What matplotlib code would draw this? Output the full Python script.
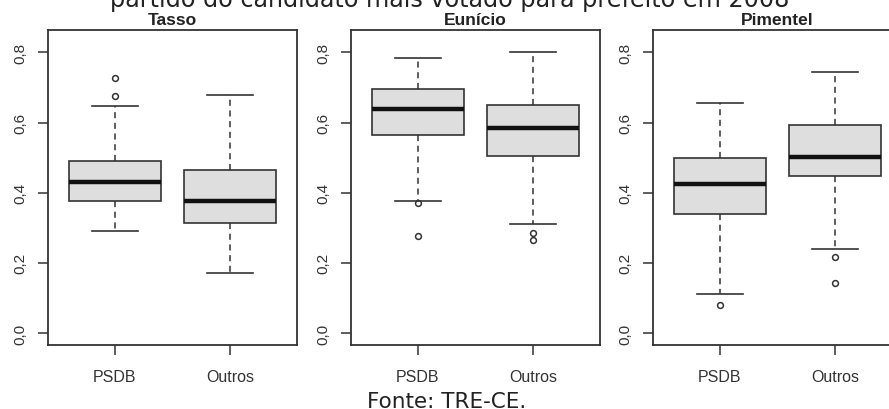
import numpy as np
import matplotlib
matplotlib.use('Agg')
import matplotlib.pyplot as plt

# dados (mínimo, Q1, mediana, Q3, máximo) + outliers
grupos = ['PSDB', 'Outros']
candidatos = ['Tasso', 'Eunício', 'Pimentel']

tasso_psdb = [0.291, 0.376, 0.430, 0.491, 0.647]
tasso_outros = [0.171, 0.314, 0.377, 0.464, 0.678]
eunicio_psdb = [0.376, 0.565, 0.638, 0.695, 0.783]
eunicio_outros = [0.312, 0.506, 0.584, 0.650, 0.802]
pimentel_psdb = [0.112, 0.339, 0.425, 0.498, 0.657]
pimentel_outros = [0.241, 0.449, 0.503, 0.594, 0.745]

out_tasso_psdb = [0.675, 0.728]
out_tasso_outros = []
out_eunicio_psdb = [0.371, 0.278]
out_eunicio_outros = [0.285, 0.264]
out_pimentel_psdb = [0.080]
out_pimentel_outros = [0.216, 0.144]

yticks = [0.0, 0.2, 0.4, 0.6, 0.8]
ytick_labels = ['0,0', '0,2', '0,4', '0,6', '0,8']

resumos = [
    (tasso_psdb, out_tasso_psdb, tasso_outros, out_tasso_outros),
    (eunicio_psdb, out_eunicio_psdb, eunicio_outros, out_eunicio_outros),
    (pimentel_psdb, out_pimentel_psdb, pimentel_outros, out_pimentel_outros),
]

def stats(v, fl, nome):
    return dict(whislo=v[0], q1=v[1], med=v[2], q3=v[3], whishi=v[4],
                fliers=np.array(fl), label=nome)

plt.rcParams['font.family'] = ['Liberation Sans', 'DejaVu Sans']
cor = '#333333'

fig = plt.figure(figsize=(8.89, 4.10), dpi=100)

lefts = [48 / 889, 351 / 889, 653 / 889]
for i, nome in enumerate(candidatos):
    ax = fig.add_axes([lefts[i], 64 / 410, 249 / 889, 315 / 410])
    a, fa, b, fb = resumos[i]
    ax.bxp([stats(a, fa, grupos[0]), stats(b, fb, grupos[1])],
           positions=[1, 2], widths=0.8, capwidths=0.4, patch_artist=True,
           boxprops=dict(facecolor='#dedede', edgecolor=cor, linewidth=1.2),
           medianprops=dict(color='#111111', linewidth=3.2, solid_capstyle='butt'),
           whiskerprops=dict(color=cor, linewidth=1.1, linestyle=(0, (4, 3))),
           capprops=dict(color=cor, linewidth=1.2),
           flierprops=dict(marker='o', markersize=4.2, markerfacecolor='none',
                           markeredgecolor=cor, markeredgewidth=1.1))
    ax.set_xlim(0.42, 2.58)
    ax.set_ylim(-0.034, 0.864)
    ax.set_yticks(yticks)
    ax.set_yticklabels(ytick_labels, rotation=90, va='center', fontsize=11, color='#333333')
    ax.set_xticks([1, 2])
    ax.set_xticklabels(grupos, fontsize=11.5, color='#333333')
    ax.tick_params(axis='y', length=7, width=1.1, color=cor, pad=8)
    ax.tick_params(axis='x', length=7, width=1.1, color=cor, pad=10)
    for s in ax.spines.values():
        s.set_color(cor)
        s.set_linewidth(1.3)
    ax.set_title(nome, fontsize=12.5, fontweight='bold', color='#222222', pad=4)

fig.text(0.506, 0.983, 'partido do candidato mais votado para prefeito em 2008',
         ha='center', va='baseline', fontsize=17.2, family='DejaVu Sans', color='#222222')
fig.text(0.502, 0.006, 'Fonte: TRE-CE.', ha='center', va='baseline',
         fontsize=15.5, family='DejaVu Sans', color='#222222')

fig.savefig('out.png', dpi=100)
